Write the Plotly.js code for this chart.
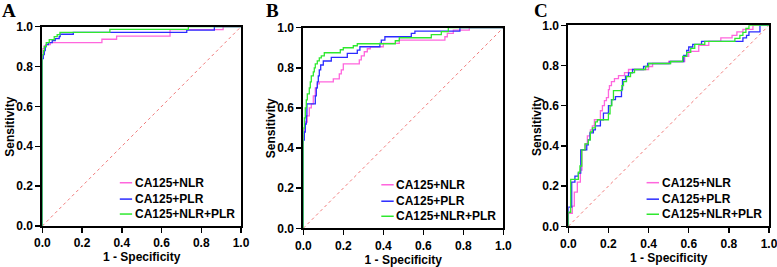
<!DOCTYPE html>
<html>
<head>
<meta charset="utf-8">
<script src="https://cdn.plot.ly/plotly-3.0.1.min.js"></script>
<style>html,body{margin:0;padding:0;background:#fff;}#chart{width:777px;height:267px;}</style>
</head>
<body>
<div id="chart"></div>
<script>
// ---------- data ----------
const seriesNames = ['CA125+NLR', 'CA125+PLR', 'CA125+NLR+PLR'];
const panelLabels = ['A', 'B', 'C'];
const xTitle = '1 - Specificity';
const yTitle = 'Sensitivity';
const tickVals = [0, 0.2, 0.4, 0.6, 0.8, 1.0];
const tickLabels = ['0.0', '0.2', '0.4', '0.6', '0.8', '1.0'];
const diagX = [0, 1];
const diagY = [0, 1];

// Panel A
const A_NLR_x = [0, 0, 0.01, 0.02, 0.04, 0.30, 0.374, 0.643, 0.91, 1];
const A_NLR_y = [0, 0.89, 0.905, 0.91, 0.92, 0.937, 0.953, 0.985, 1.0, 1];
const A_PLR_x = [0, 0, 0.005, 0.01, 0.015, 0.02, 0.03, 0.05, 0.065, 0.085, 0.09, 0.156, 0.727, 0.866, 1];
const A_PLR_y = [0, 0.84, 0.86, 0.88, 0.90, 0.91, 0.92, 0.93, 0.94, 0.95, 0.962, 0.972, 0.983, 1.0, 1];
const A_ALL_x = [0, 0, 0.005, 0.01, 0.02, 0.035, 0.06, 0.075, 0.089, 0.34, 0.735, 1];
const A_ALL_y = [0, 0.86, 0.88, 0.90, 0.92, 0.935, 0.95, 0.96, 0.972, 0.987, 1.0, 1];

// Panel B
const B_NLR_x = [0, 0, 0.005, 0.01, 0.02, 0.03, 0.04, 0.05, 0.06, 0.07, 0.08, 0.15, 0.18, 0.19, 0.2, 0.28, 0.29, 0.305, 0.32, 0.335, 0.4, 0.48, 0.708, 0.72, 0.75, 0.83, 1];
const B_NLR_y = [0, 0.46, 0.50, 0.53, 0.56, 0.60, 0.62, 0.66, 0.70, 0.72, 0.73, 0.745, 0.77, 0.79, 0.82, 0.84, 0.86, 0.88, 0.895, 0.905, 0.922, 0.938, 0.955, 0.972, 0.988, 1.0, 1];
const B_PLR_x = [0, 0, 0.005, 0.01, 0.015, 0.018, 0.06, 0.065, 0.07, 0.075, 0.08, 0.087, 0.1, 0.14, 0.22, 0.27, 0.283, 0.383, 0.39, 0.408, 0.54, 0.558, 0.783, 1];
const B_PLR_y = [0, 0.44, 0.48, 0.52, 0.56, 0.62, 0.66, 0.70, 0.73, 0.76, 0.79, 0.814, 0.834, 0.852, 0.872, 0.888, 0.905, 0.922, 0.938, 0.955, 0.972, 0.983, 1.0, 1];
const B_ALL_x = [0, 0, 0.005, 0.01, 0.015, 0.02, 0.03, 0.035, 0.04, 0.05, 0.055, 0.06, 0.07, 0.08, 0.09, 0.105, 0.185, 0.2, 0.25, 0.27, 0.46, 0.48, 0.64, 0.69, 0.725, 1];
const B_ALL_y = [0, 0.50, 0.55, 0.60, 0.64, 0.67, 0.70, 0.73, 0.76, 0.78, 0.80, 0.82, 0.835, 0.85, 0.86, 0.875, 0.89, 0.90, 0.91, 0.92, 0.935, 0.95, 0.965, 0.98, 1.0, 1];

// Panel C
const C_NLR_x = [0, 0, 0.02, 0.03, 0.045, 0.06, 0.068, 0.085, 0.095, 0.11, 0.12, 0.13, 0.16, 0.17, 0.18, 0.19, 0.2, 0.205, 0.215, 0.23, 0.25, 0.28, 0.3, 0.4, 0.42, 0.5, 0.58, 0.6, 0.65, 0.7, 0.76, 0.816, 0.84, 0.87, 0.92, 1];
const C_NLR_y = [0, 0.065, 0.10, 0.17, 0.22, 0.28, 0.38, 0.41, 0.45, 0.48, 0.50, 0.53, 0.575, 0.60, 0.625, 0.64, 0.68, 0.70, 0.72, 0.735, 0.75, 0.765, 0.78, 0.795, 0.81, 0.82, 0.845, 0.87, 0.90, 0.92, 0.937, 0.95, 0.967, 0.98, 1.0, 1];
const C_PLR_x = [0, 0, 0.017, 0.033, 0.05, 0.062, 0.092, 0.1, 0.108, 0.125, 0.135, 0.16, 0.175, 0.2, 0.215, 0.235, 0.265, 0.27, 0.285, 0.3, 0.32, 0.375, 0.395, 0.507, 0.575, 0.59, 0.6, 0.62, 0.664, 0.87, 0.888, 0.9, 0.955, 1];
const C_PLR_y = [0, 0.095, 0.22, 0.25, 0.265, 0.38, 0.405, 0.43, 0.465, 0.48, 0.50, 0.53, 0.563, 0.60, 0.63, 0.645, 0.68, 0.73, 0.747, 0.763, 0.78, 0.795, 0.81, 0.82, 0.85, 0.875, 0.892, 0.905, 0.92, 0.937, 0.95, 0.967, 1.0, 1];
const C_ALL_x = [0, 0, 0.012, 0.05, 0.058, 0.067, 0.083, 0.1, 0.11, 0.12, 0.135, 0.145, 0.2, 0.208, 0.217, 0.225, 0.267, 0.275, 0.29, 0.31, 0.33, 0.385, 0.4, 0.51, 0.57, 0.59, 0.61, 0.63, 0.68, 0.83, 0.855, 0.87, 0.885, 0.9, 1];
const C_ALL_y = [0, 0.07, 0.233, 0.27, 0.30, 0.38, 0.41, 0.43, 0.47, 0.49, 0.52, 0.53, 0.56, 0.60, 0.63, 0.675, 0.70, 0.72, 0.745, 0.765, 0.78, 0.795, 0.81, 0.82, 0.845, 0.865, 0.885, 0.905, 0.92, 0.935, 0.95, 0.965, 0.985, 1.0, 1];

const seriesColors = ['#ff66dd', '#2b2bff', '#2fe82f'];
const diagColor = '#f07a7a';

// ---------- build ----------
const panels = [
  {xs: [A_NLR_x, A_PLR_x, A_ALL_x], ys: [A_NLR_y, A_PLR_y, A_ALL_y], xa: 'x', ya: 'y'},
  {xs: [B_NLR_x, B_PLR_x, B_ALL_x], ys: [B_NLR_y, B_PLR_y, B_ALL_y], xa: 'x2', ya: 'y2'},
  {xs: [C_NLR_x, C_PLR_x, C_ALL_x], ys: [C_NLR_y, C_PLR_y, C_ALL_y], xa: 'x3', ya: 'y3'}
];

const traces = [];
panels.forEach(p => {
  traces.push({x: diagX, y: diagY, xaxis: p.xa, yaxis: p.ya, mode: 'lines', showlegend: false,
    line: {color: diagColor, width: 1, dash: 'dot'}, hoverinfo: 'skip'});
  for (let i = 0; i < 3; i++) {
    traces.push({x: p.xs[i], y: p.ys[i], xaxis: p.xa, yaxis: p.ya, name: seriesNames[i],
      mode: 'lines', line: {shape: 'hv', color: seriesColors[i], width: 1.3}, showlegend: false});
  }
});

const W = 777, H = 267;
const boxes = [
  {l: 42.3, r: 241, t: 26.7, b: 226, lab: 0},
  {l: 303.3, r: 503.3, t: 27.7, b: 228.3, lab: 264},
  {l: 568.3, r: 769, t: 25.3, b: 226.3, lab: 532}
];
const tickFont = {family: 'Liberation Sans, Arial, sans-serif', size: 12, weight: 'bold', color: '#000'};

function axisBase(domain, anchor) {
  return {
    domain: domain, anchor: anchor, range: [0, 1], fixedrange: true,
    tickvals: tickVals, ticktext: tickLabels, tickfont: tickFont, ticklabeloverflow: 'allow',
    showgrid: false, zeroline: false, showline: true, mirror: true,
    linecolor: '#000', linewidth: 2, ticks: 'outside', ticklen: 5, tickwidth: 1.5, tickcolor: '#000'
  };
}

const layout = {
  width: W, height: H,
  margin: {l: 0, r: 0, t: 0, b: 0},
  paper_bgcolor: '#fff', plot_bgcolor: '#fff',
  showlegend: false,
  annotations: [], shapes: []
};

const legY = [0.217, 0.135, 0.06];
boxes.forEach((b, k) => {
  const sx = k === 0 ? '' : String(k + 1);
  const xa = axisBase([b.l / W, b.r / W], 'y' + sx);
  xa.title = {text: xTitle, font: tickFont, standoff: 3};
  layout['xaxis' + sx] = xa;
  layout['yaxis' + sx] = axisBase([1 - b.b / H, 1 - b.t / H], 'x' + sx);
  // y-axis title
  layout.annotations.push({text: yTitle, xref: 'paper', yref: 'paper',
    x: (b.l - 32) / W, y: 1 - ((b.t + b.b) / 2) / H, textangle: -90,
    xanchor: 'center', yanchor: 'middle', showarrow: false, font: tickFont});
  // panel letter
  layout.annotations.push({text: panelLabels[k], xref: 'paper', yref: 'paper',
    x: b.lab / W, y: 1 + 2 / H, xanchor: 'left', yanchor: 'top', showarrow: false,
    font: {family: 'Liberation Serif, Times New Roman, serif', size: 19, weight: 'bold', color: '#000'}});
  // legend
  for (let i = 0; i < 3; i++) {
    layout.shapes.push({type: 'line', xref: 'x' + sx + ' domain', yref: 'y' + sx + ' domain',
      x0: 0.39, x1: 0.452, y0: legY[i], y1: legY[i], line: {color: seriesColors[i], width: 1.5}});
    layout.annotations.push({text: seriesNames[i], xref: 'x' + sx + ' domain', yref: 'y' + sx + ' domain',
      x: 0.455, y: legY[i], xanchor: 'left', yanchor: 'middle', showarrow: false, font: tickFont});
  }
});

Plotly.newPlot('chart', traces, layout, {staticPlot: true, displayModeBar: false});
</script>
</body>
</html>
